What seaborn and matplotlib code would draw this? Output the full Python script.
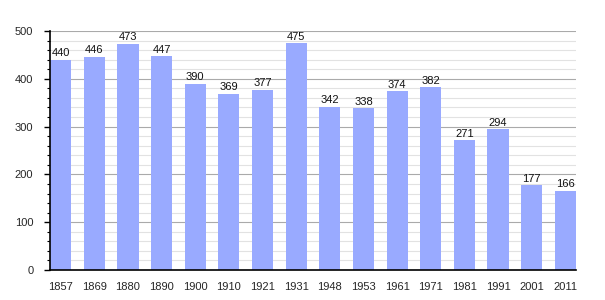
import matplotlib
matplotlib.use("Agg")
import matplotlib.pyplot as plt
import seaborn as sns
import pandas as pd
from matplotlib.ticker import MultipleLocator

years = ["1857", "1869", "1880", "1890", "1900", "1910", "1921", "1931",
         "1948", "1953", "1961", "1971", "1981", "1991", "2001", "2011"]
population = [440, 446, 473, 447, 390, 369, 377, 475,
              342, 338, 374, 382, 271, 294, 177, 166]

df = pd.DataFrame({"year": years, "pop": population})

sns.set_theme(style="white")
plt.rcParams['font.family'] = ['Liberation Sans', 'DejaVu Sans']

fig = plt.figure(figsize=(6.05, 3.0), dpi=100)
ax = fig.add_axes([50/605, 30/300, 526/605, 239/300])

sns.barplot(data=df, x="year", y="pop", color="#99aaff", saturation=1,
            width=0.63, ax=ax, linewidth=0, edgecolor="none", zorder=2)

ax.set_ylim(0, 500)
ax.set_xlim(-0.315, 15.315)
ax.yaxis.set_major_locator(MultipleLocator(100))
ax.yaxis.set_minor_locator(MultipleLocator(20))
ax.grid(which="major", axis="y", color="#aaaaaa", linewidth=0.8, zorder=0)
ax.grid(which="minor", axis="y", color="#e2e2e2", linewidth=0.8, zorder=0)
ax.set_axisbelow(True)

for s in ["top", "right"]:
    ax.spines[s].set_visible(False)
for s in ["left", "bottom"]:
    ax.spines[s].set_color("black")
    ax.spines[s].set_linewidth(1.2)
    ax.spines[s].set_zorder(5)

ax.tick_params(axis="y", which="major", left=True, length=4, width=1, color="black", labelsize=8, pad=8)
ax.tick_params(axis="y", which="minor", left=True, length=2.5, width=0.8, color="black")
ax.tick_params(axis="x", bottom=False, labelsize=8, pad=3)
ax.set_xlabel("")
ax.set_ylabel("")

for i, v in enumerate(population):
    ax.text(i, v + 3, str(v), ha="center", va="bottom", fontsize=8, color="#111111")

fig.savefig("out.png", dpi=100, facecolor="white")
